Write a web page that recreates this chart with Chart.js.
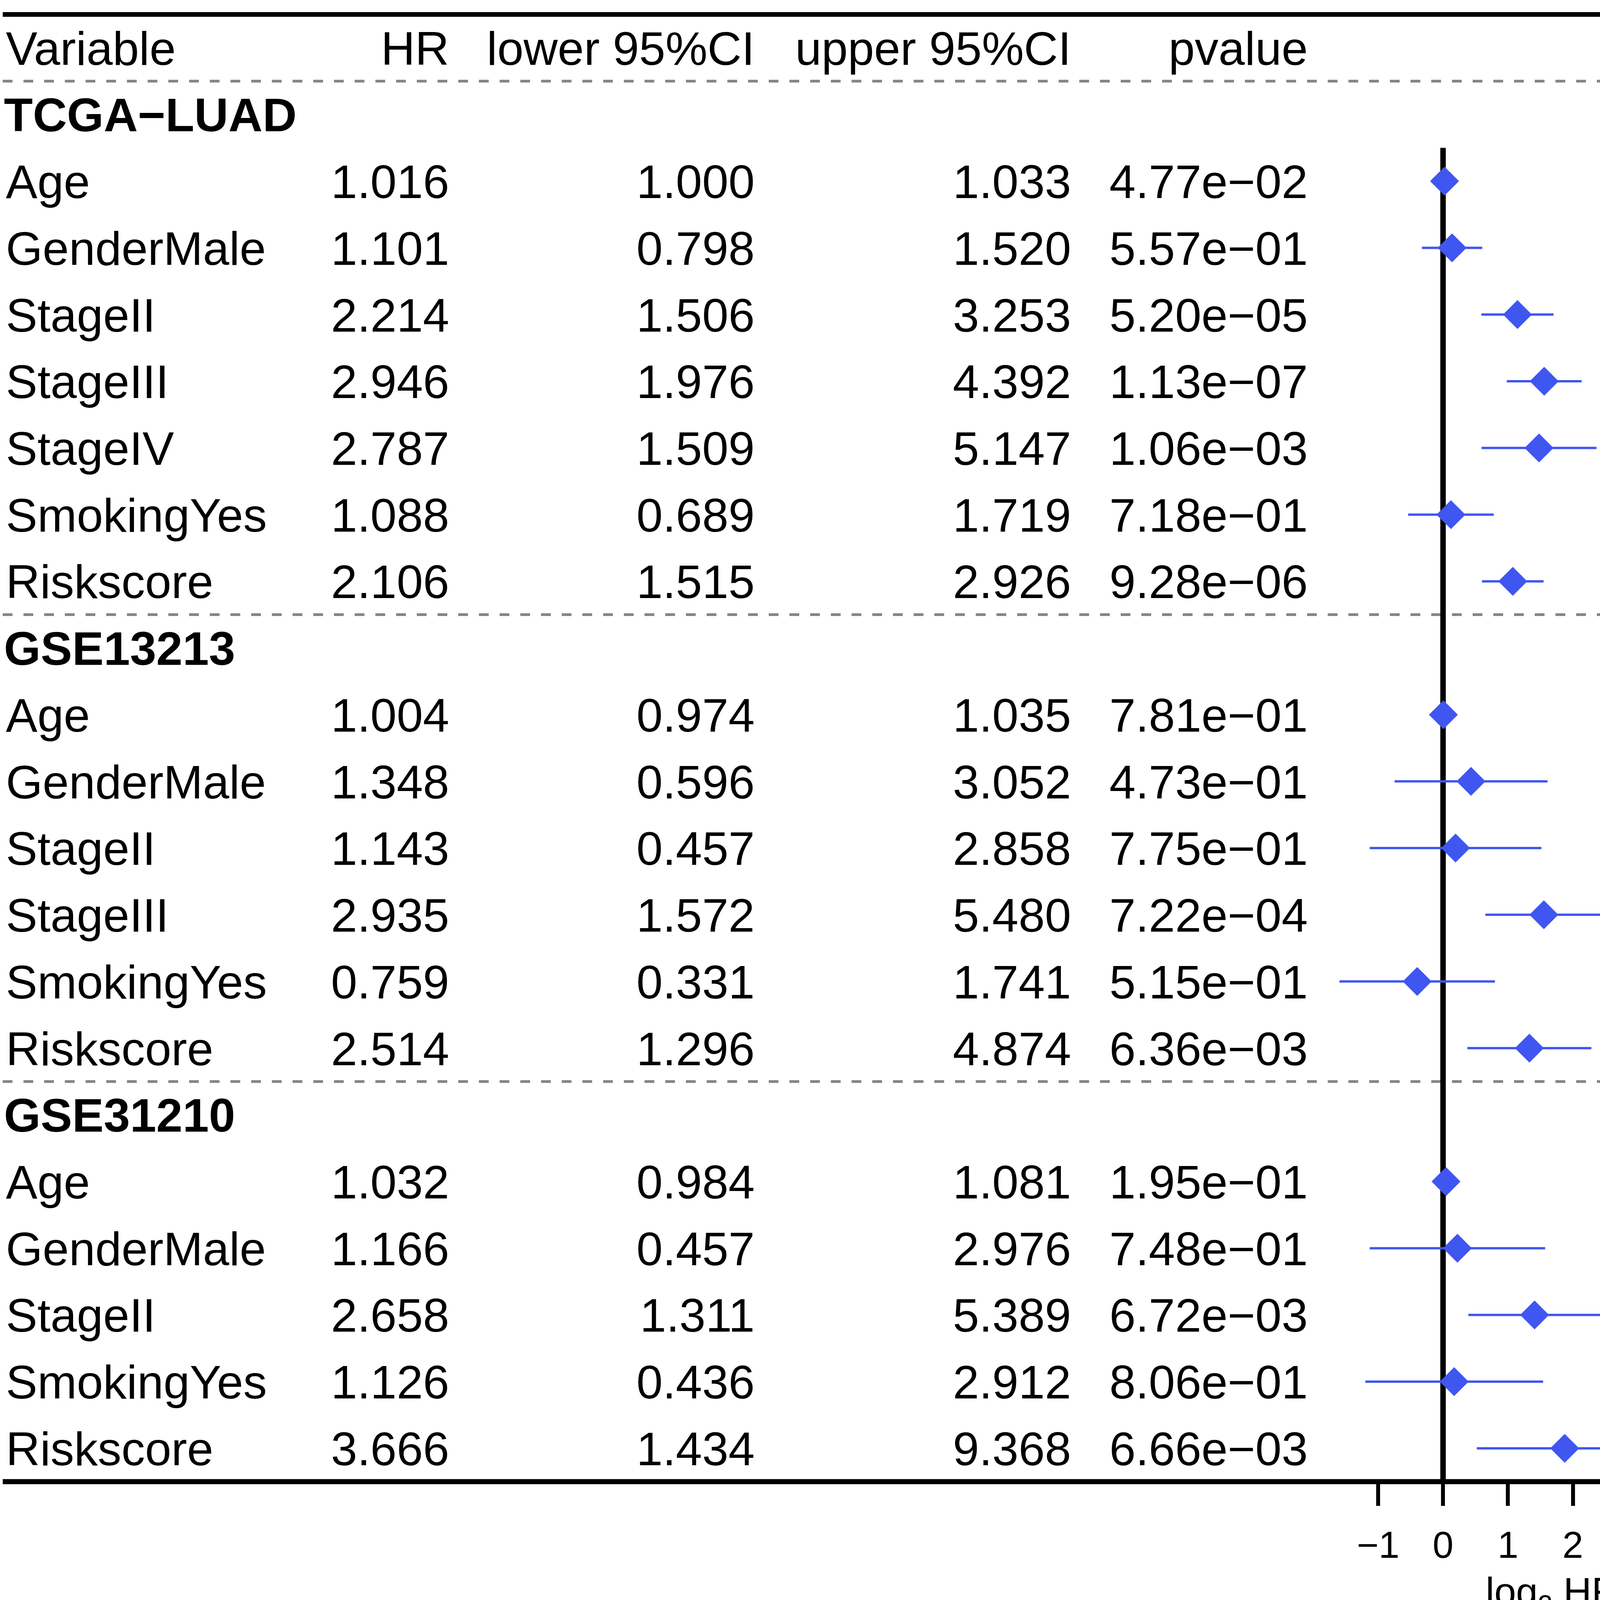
<html>
    <head>
        <title>Forest plot - multivariate Cox</title>
        <meta charset="utf-8" />
        <style>
            body { margin: 0; background: #fff; }
            canvas { display: block; }
        </style>
    </head>
    <body>
        <canvas id="chart" width="4562" height="4144"></canvas>

        <script src="https://cdn.jsdelivr.net/npm/chart.js"></script>

        <script>
        // table values
        const groupNames = ['TCGA\u2212LUAD', 'GSE13213', 'GSE31210'];
        const groupOf = [0, 0, 0, 0, 0, 0, 0, 1, 1, 1, 1, 1, 1, 2, 2, 2, 2, 2];
        const variables = ['Age', 'GenderMale', 'StageII', 'StageIII', 'StageIV', 'SmokingYes', 'Riskscore',
                           'Age', 'GenderMale', 'StageII', 'StageIII', 'SmokingYes', 'Riskscore',
                           'Age', 'GenderMale', 'StageII', 'SmokingYes', 'Riskscore'];
        const hr = [1.016, 1.101, 2.214, 2.946, 2.787, 1.088, 2.106,
                    1.004, 1.348, 1.143, 2.935, 0.759, 2.514,
                    1.032, 1.166, 2.658, 1.126, 3.666];
        const lower = [1.000, 0.798, 1.506, 1.976, 1.509, 0.689, 1.515,
                       0.974, 0.596, 0.457, 1.572, 0.331, 1.296,
                       0.984, 0.457, 1.311, 0.436, 1.434];
        const upper = [1.033, 1.520, 3.253, 4.392, 5.147, 1.719, 2.926,
                       1.035, 3.052, 2.858, 5.480, 1.741, 4.874,
                       1.081, 2.976, 5.389, 2.912, 9.368];
        const pvalue = ['4.77e\u221202', '5.57e\u221201', '5.20e\u221205', '1.13e\u221207', '1.06e\u221203', '7.18e\u221201', '9.28e\u221206',
                        '7.81e\u221201', '4.73e\u221201', '7.75e\u221201', '7.22e\u221204', '5.15e\u221201', '6.36e\u221203',
                        '1.95e\u221201', '7.48e\u221201', '6.72e\u221203', '8.06e\u221201', '6.66e\u221203'];
        const headers = ['Variable', 'HR', 'lower 95%CI', 'upper 95%CI', 'pvalue'];
        const xTicks = [-1, 0, 1, 2, 3, 4, 5];

        const BLUE = '#3f56f1';
        const FONT = '"Liberation Sans", Arial, Helvetica, sans-serif';

        // row 0 = header, group titles and variables below
        function rowOf(k) { return k + 2 + groupOf[k]; }
        function groupRow(g) { return groupOf.indexOf(g) + 1 + g; }
        const lastRow = rowOf(variables.length - 1);

        const diamonds = variables.map((v, k) => ({ x: Math.log2(hr[k]), y: rowOf(k) }));

        var datasets = [{
            type: 'scatter',
            label: 'HR',
            data: diamonds,
            pointStyle: 'rectRot',
            pointRadius: 37,
            backgroundColor: BLUE,
            borderWidth: 0,
            clip: false,
            order: 0
        }];
        variables.forEach((v, k) => {
            datasets.push({
                type: 'line',
                label: v + ' CI',
                data: [{ x: Math.log2(lower[k]), y: rowOf(k) }, { x: Math.log2(upper[k]), y: rowOf(k) }],
                borderColor: BLUE,
                borderWidth: 6,
                pointRadius: 0,
                clip: false,
                order: 1
            });
        });

        function hline(ctx, x1, x2, y) {
            ctx.beginPath();
            ctx.moveTo(x1, y);
            ctx.lineTo(x2, y);
            ctx.stroke();
        }

        const forestPlugin = {
            id: 'forestPlugin',
            beforeDatasetsDraw(chart) {
                const ctx = chart.ctx, ys = chart.scales.y, xs = chart.scales.x;
                const left = 7, right = xs.getPixelForValue(5);
                ctx.save();
                ctx.lineCap = 'butt';
                // dashed separators
                ctx.strokeStyle = '#858585';
                ctx.lineWidth = 7;
                ctx.setLineDash([25, 28]);
                hline(ctx, left, right, ys.getPixelForValue(0.5));
                for (let g = 1; g < groupNames.length; g++) {
                    hline(ctx, left, right, ys.getPixelForValue(groupRow(g) - 0.5));
                }
                ctx.setLineDash([]);
                // zero line
                ctx.strokeStyle = '#000';
                ctx.lineWidth = 14;
                const x0 = xs.getPixelForValue(0);
                ctx.beginPath();
                ctx.moveTo(x0, ys.getPixelForValue(1.5));
                ctx.lineTo(x0, ys.getPixelForValue(lastRow + 0.5));
                ctx.stroke();
                // top and bottom rules
                ctx.lineWidth = 12;
                hline(ctx, left, right, ys.getPixelForValue(-0.5));
                ctx.lineWidth = 13;
                hline(ctx, left, right, ys.getPixelForValue(lastRow + 0.5));
                ctx.restore();
            },
            afterDraw(chart) {
                const ctx = chart.ctx, ys = chart.scales.y, xs = chart.scales.x;
                const colRight = [1150, 1932, 2742, 3348];
                const size = 121;
                const shift = size * 0.358;
                ctx.save();
                ctx.fillStyle = '#000';
                ctx.font = size + 'px ' + FONT;

                // header
                let yh = ys.getPixelForValue(0) + shift;
                ctx.textAlign = 'left';
                ctx.fillText(headers[0], 15, yh);
                ctx.textAlign = 'right';
                for (let c = 1; c < headers.length; c++) {
                    ctx.fillText(headers[c], colRight[c - 1], yh);
                }

                // group titles
                ctx.font = 'bold ' + size + 'px ' + FONT;
                ctx.textAlign = 'left';
                groupNames.forEach((g, i) => {
                    ctx.fillText(g, 10, ys.getPixelForValue(groupRow(i)) + shift);
                });

                // variable rows
                ctx.font = size + 'px ' + FONT;
                variables.forEach((v, k) => {
                    const y = ys.getPixelForValue(rowOf(k)) + shift;
                    ctx.textAlign = 'left';
                    ctx.fillText(v, 15, y);
                    ctx.textAlign = 'right';
                    ctx.fillText(hr[k].toFixed(3), colRight[0], y);
                    ctx.fillText(lower[k].toFixed(3), colRight[1], y);
                    ctx.fillText(upper[k].toFixed(3), colRight[2], y);
                    ctx.fillText(pvalue[k], colRight[3], y);
                });

                // axis title: log2 HR with subscript
                const cx = (chart.chartArea.left + chart.chartArea.right) / 2;
                const ty = 4073 + 36;
                const big = '100px ' + FONT, small = '68px ' + FONT;
                ctx.font = big;
                const wLog = ctx.measureText('log').width;
                const wHR = ctx.measureText(' HR').width;
                ctx.font = small;
                const w2 = ctx.measureText('2').width;
                let x = cx - (wLog + w2 + wHR) / 2;
                ctx.textAlign = 'left';
                ctx.font = big;
                ctx.fillText('log', x, ty);
                x += wLog;
                ctx.font = small;
                ctx.fillText('2', x, ty + 22);
                x += w2;
                ctx.font = big;
                ctx.fillText(' HR', x, ty);
                ctx.restore();
            }
        };

        var chartData = { datasets: datasets };

        var chartOptions = {
            responsive: false,
            devicePixelRatio: 1,
            animation: false,
            events: [],
            layout: { padding: { left: 3425, right: 27, top: 14, bottom: 0 } },
            plugins: {
                legend: { display: false },
                tooltip: { enabled: false }
            },
            scales: {
                x: {
                    type: 'linear',
                    min: -1.62,
                    max: 5,
                    afterBuildTicks: (scale) => { scale.ticks = xTicks.map(v => ({ value: v })); },
                    afterFit: (scale) => {
                        scale.height = 4144 - 3793;
                        scale.paddingLeft = 0;
                        scale.paddingRight = 0;
                    },
                    border: { display: false },
                    grid: {
                        drawOnChartArea: false,
                        drawTicks: true,
                        tickLength: 62,
                        tickWidth: 10,
                        tickColor: '#000',
                        lineWidth: 10,
                        color: '#000'
                    },
                    ticks: {
                        color: '#000',
                        padding: 49,
                        font: { family: FONT, size: 96 },
                        callback: (v) => String(v).replace('-', '\u2212')
                    }
                },
                y: {
                    type: 'linear',
                    display: false,
                    reverse: true,
                    min: -0.5,
                    max: lastRow + 0.5
                }
            }
        };

        var myChart = new Chart(document.getElementById('chart'), {
            type: 'scatter',
            data: chartData,
            options: chartOptions,
            plugins: [forestPlugin]
        });
        </script>
    </body>
</html>
